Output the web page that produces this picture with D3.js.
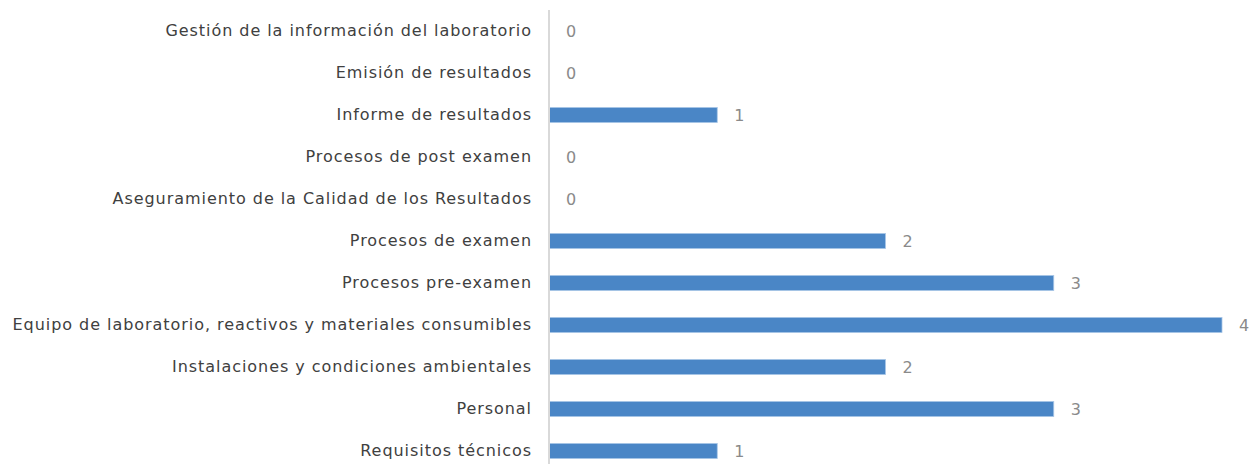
<!DOCTYPE html>
<html><head><meta charset="utf-8">
<script src="https://cdn.jsdelivr.net/npm/d3@7"></script>
<style>body{margin:0;background:#fff}svg{display:block}</style>
</head><body>
<svg id="c" width="1255" height="464"></svg>
<script>
const categories = [
  "Gestión de la información del laboratorio",
  "Emisión de resultados",
  "Informe de resultados",
  "Procesos de post examen",
  "Aseguramiento de la Calidad de los Resultados",
  "Procesos de examen",
  "Procesos pre-examen",
  "Equipo de laboratorio, reactivos y materiales consumibles",
  "Instalaciones y condiciones ambientales",
  "Personal",
  "Requisitos técnicos"
];
const values = [0, 0, 1, 0, 0, 2, 3, 4, 2, 3, 1];

const svg = d3.select("#c");
const x0 = 549, x1 = 1222;
const x = d3.scaleLinear().domain([0, 4]).range([x0, x1]);
const y = d3.scaleBand().domain(categories).range([10, 472]).paddingInner(0.64).paddingOuter(0.32);

const font = "'DejaVu Sans', sans-serif";

svg.append("g").selectAll("rect").data(categories).join("rect")
  .attr("x", x(0))
  .attr("y", d => y(d))
  .attr("width", (d, i) => x(values[i]) - x(0))
  .attr("height", y.bandwidth())
  .attr("fill", "#4a86c6")
  .attr("stroke", "#a9c6e6")
  .attr("stroke-width", 0.8)
  .attr("display", (d, i) => values[i] > 0 ? null : "none");

const yAxis = d3.axisLeft(y).tickSize(0).tickPadding(18);
const ga = svg.append("g").attr("transform", `translate(${x0},0)`).call(yAxis);
ga.select(".domain").attr("stroke", "#d9d9d9").attr("stroke-width", 2).attr("d", "M0,10V472");
ga.selectAll("text").attr("font-family", font).attr("font-size", 16).attr("letter-spacing", "0.95px")
  .attr("fill", "#404040").attr("x", -17);

svg.append("g").selectAll("text").data(categories).join("text")
  .attr("x", (d, i) => x(values[i]) + 17)
  .attr("y", d => y(d) + y.bandwidth() / 2)
  .attr("dy", "0.35em")
  .attr("font-family", font).attr("font-size", 16)
  .attr("fill", "#8a8a8a")
  .text((d, i) => values[i]);
</script>
</body></html>
